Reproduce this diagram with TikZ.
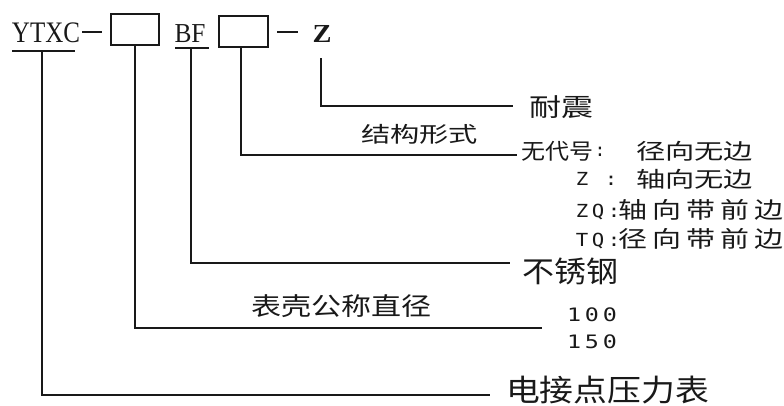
\documentclass[tikz,border=0pt]{standalone}
\usepackage{fontspec}
\usepackage{graphicx}
\setmainfont{Liberation Serif}
\newfontfamily\cjk{Noto Sans CJK SC}
\newfontfamily\monof{DejaVu Sans Mono}
\newcommand\fitto[3]{\resizebox*{#1pt}{#2pt}{#3}}
\newcommand\mcell[1]{\makebox[16pt][c]{\scalebox{1.15}[1]{#1}}}
\tikzset{
  ln/.style={line width=1.2pt, black!90},
  boxn/.style={draw, line width=1.2pt, black!90, inner sep=0pt},
  txt/.style={inner sep=0pt, outer sep=0pt, black!90},
  monot/.style={txt, anchor=base west, font=\fontsize{18}{18}\selectfont\monof},
}
\begin{document}
\begin{tikzpicture}[x=1pt,y=-1pt]
\useasboundingbox (0,0) rectangle (784,405);
% --- top code line ---
\node[txt] (ytxc) at (46,33) {\fitto{68}{20}{YTXC}};
\node[txt] (bf) at (190,34) {\fitto{31}{18}{BF}};
\node[txt] (zz) at (322,34) {\fitto{19}{17}{\bfseries Z}};
\node[boxn, minimum width=48pt, minimum height=31pt] (box1) at (135,29.5) {};
\node[boxn, minimum width=49pt, minimum height=31pt] (box2) at (243.5,31.5) {};
\coordinate (d1a) at (82,32); \coordinate (d1b) at (102,32);
\coordinate (d2a) at (277,32); \coordinate (d2b) at (298,32);
\draw[ln] (d1a) -- (d1b);
\draw[ln] (d2a) -- (d2b);
% underlines
\coordinate (u1a) at (12,51); \coordinate (u1b) at (75,51);
\coordinate (u2a) at (175,48); \coordinate (u2b) at (209,48);
\draw[ln] (u1a) -- (u1b);
\draw[ln] (u2a) -- (u2b);
% --- labels ---
\node[txt] (naizhen) at (561.5,107.5) {\fitto{64}{23}{\cjk 耐震}};
\node[txt] (jiegou) at (419.5,134) {\fitto{117}{20}{\cjk 结构形式}};
\node[txt] (wudaihao) at (557.5,151) {\fitto{72}{20}{\cjk 无代号}};
\node[txt] (colon0) at (600,152) {\fontsize{18}{18}\selectfont\monof :};
\node[txt] (jxwb) at (694.5,151) {\fitto{117}{20}{\cjk 径向无边}};
\node[monot] (zc) at (574,185) {\mcell{Z}\hspace{13pt}\mcell{:}};
\node[txt] (zxwb) at (694.5,179) {\fitto{117}{20}{\cjk 轴向无边}};
\node[monot] (zqc) at (574,217) {\mcell{Z}\mcell{Q}\mcell{:}};
\node[txt] (zxdqb) at (701,209.5) {\fitto{164}{21}{\cjk 轴\,向\,带\,前\,边}};
\node[monot] (tqc) at (574,246) {\mcell{T}\mcell{Q}\mcell{:}};
\node[txt] (jxdqb) at (701,238.5) {\fitto{164}{21}{\cjk 径\,向\,带\,前\,边}};
\node[txt] (buxiu) at (570.5,271.5) {\fitto{96}{27}{\cjk 不锈钢}};
\node[txt] (biaoke) at (341,306.5) {\fitto{180}{23}{\cjk 表壳公称直径}};
\node[txt] (n100) at (592,315) {\fitto{50}{14}{\monof 1\,0\,0}};
\node[txt] (n150) at (592,342) {\fitto{50}{14}{\monof 1\,5\,0}};
\node[txt] (dianjie) at (607.5,390) {\fitto{203}{28}{\cjk 电接点压力表}};
% --- leader lines ---
\coordinate (ytxcU) at (42,51);
\coordinate (bfU) at (191,48);
\coordinate (e1) at (490,395);
\coordinate (e2) at (542,328);
\coordinate (e3) at (510,263);
\coordinate (e4) at (517,155);
\coordinate (e5) at (513,106);
\coordinate (zs) at (321,58);
\draw[ln] (ytxcU) |- (e1);
\draw[ln] (box1.south) |- (e2);
\draw[ln] (bfU) |- (e3);
\draw[ln] ([xshift=-2.5pt]box2.south) |- (e4);
\draw[ln] (zs) |- (e5);
\end{tikzpicture}
\end{document}
